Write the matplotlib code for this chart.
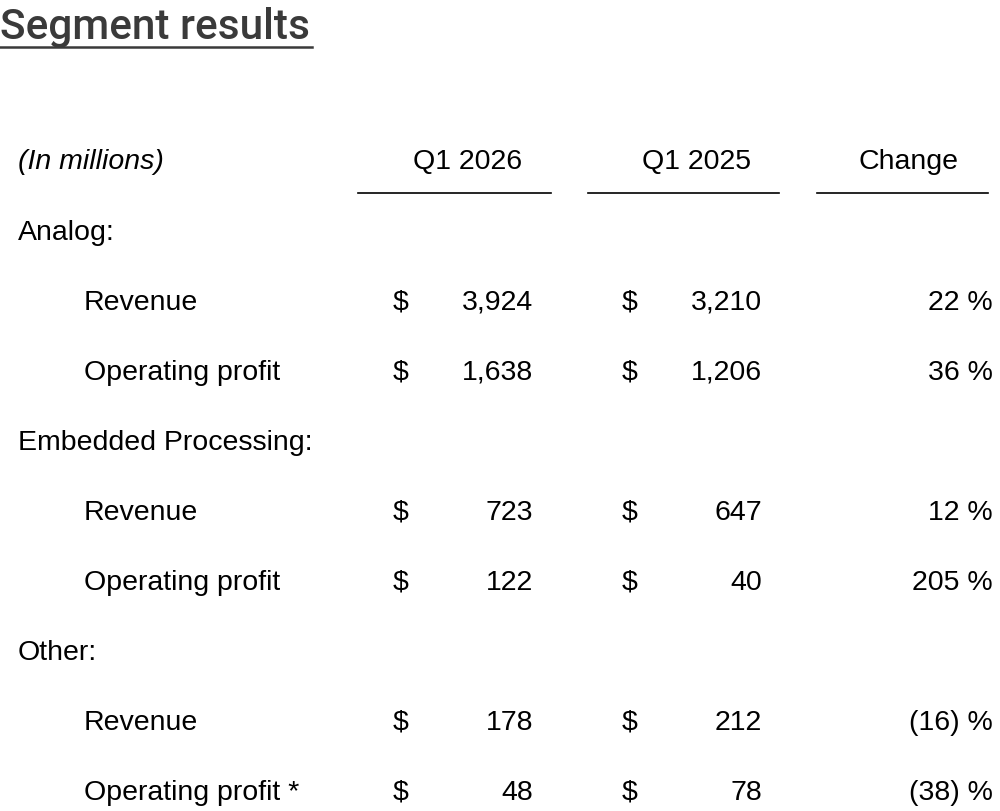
import matplotlib
matplotlib.use("Agg")
import matplotlib.pyplot as plt
from matplotlib.lines import Line2D

title = "Segment results"
headers = ["Q1 2026", "Q1 2025", "Change"]
sections = ["Analog:", "Embedded Processing:", "Other:"]
items = [["Revenue", "Operating profit"], ["Revenue", "Operating profit"], ["Revenue", "Operating profit *"]]
q1_2026 = [[3924, 1638], [723, 122], [178, 48]]
q1_2025 = [[3210, 1206], [647, 40], [212, 78]]
change = [["22 %", "36 %"], ["12 %", "205 %"], ["(16) %", "(38) %"]]

W, H = 1000, 812
fig = plt.figure(figsize=(10, 8.12), dpi=100)
fx = lambda x: x / W
fy = lambda y: 1 - y / H
font = "Liberation Sans"
fs = 20.5

fig.text(fx(0), fy(28), title, fontsize=30.5, fontfamily="Roboto", fontweight="medium",
         color="#3a3a3a", va="center", ha="left")
fig.add_artist(Line2D([fx(0), fx(312)], [fy(48), fy(48)], color="#3a3a3a", lw=1.8))

fig.text(fx(18), fy(162), "(In millions)", fontsize=fs, fontfamily=font, style="italic", va="center")
for h, cx, (l, r) in zip(headers, [468, 697, 908], [(358, 551), (588, 779), (817, 988)]):
    fig.text(fx(cx), fy(162), h, fontsize=fs, fontfamily=font, va="center", ha="center")
    fig.add_artist(Line2D([fx(l), fx(r)], [fy(194), fy(194)], color="black", lw=1.2))

y = 233
for s, its, a, b, c in zip(sections, items, q1_2026, q1_2025, change):
    fig.text(fx(18), fy(y), s, fontsize=fs, fontfamily=font, va="center")
    y += 70
    for it, va_, vb, vc in zip(its, a, b, c):
        fig.text(fx(84), fy(y), it, fontsize=fs, fontfamily=font, va="center")
        fig.text(fx(393), fy(y), "$", fontsize=fs, fontfamily=font, va="center")
        fig.text(fx(533), fy(y), f"{va_:,}", fontsize=fs, fontfamily=font, va="center", ha="right")
        fig.text(fx(622), fy(y), "$", fontsize=fs, fontfamily=font, va="center")
        fig.text(fx(762), fy(y), f"{vb:,}", fontsize=fs, fontfamily=font, va="center", ha="right")
        fig.text(fx(993), fy(y), vc, fontsize=fs, fontfamily=font, va="center", ha="right")
        y += 70

fig.savefig("out.png", dpi=100)
